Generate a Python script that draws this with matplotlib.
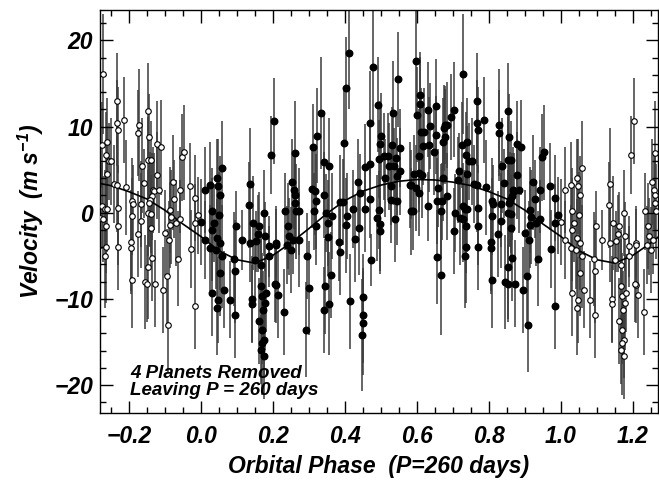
import numpy as np
import matplotlib
matplotlib.use("Agg")
import matplotlib.pyplot as plt
from matplotlib.ticker import MultipleLocator

plt.rcParams['font.family'] = ['Liberation Sans', 'DejaVu Sans']
plt.rcParams['font.weight'] = 'bold'
plt.rcParams['font.style'] = 'italic'
plt.rcParams['axes.labelweight'] = 'bold'

# measured (filled) points, phase 0..1
phase = [
    0.204, 0.195, 0.059, 0.045, 0.027, 0.054, 0.048, 0.031, 0.036, 0.031,
    0.050, 0.045, 0.027, 0.041, 0.054, 0.059, 0.054, 0.064, 0.031, 0.045,
    0.048, 0.013, 0.013, 0.099, 0.115, 0.092, 0.095, 0.082, 0.096, 0.137,
    0.134, 0.146, 0.137, 0.162, 0.160, 0.152, 0.178, 0.176, 0.150, 0.190,
    0.190, 0.208, 0.208, 0.166, 0.143, 0.141, 0.166, 0.171, 0.173, 0.162,
    0.171, 0.176, 0.166, 0.176, 0.179, 0.182, 0.169,
    0.263, 0.254, 0.258, 0.261, 0.263, 0.265, 0.274, 0.235, 0.242, 0.245,
    0.239, 0.251, 0.256, 0.272, 0.209, 0.207, 0.214, 0.231, 0.293, 0.296,
    0.301, 0.335, 0.324, 0.312, 0.343, 0.355, 0.309, 0.316, 0.321, 0.314,
    0.343, 0.349, 0.354, 0.354, 0.365, 0.386, 0.396, 0.399, 0.402, 0.385,
    0.363, 0.346, 0.355, 0.343, 0.319, 0.387,
    0.412, 0.406, 0.404, 0.427, 0.415, 0.424, 0.436, 0.443, 0.440, 0.455,
    0.455, 0.469, 0.471, 0.470, 0.479, 0.474, 0.451, 0.451, 0.451, 0.448,
    0.491, 0.501, 0.497, 0.494, 0.508, 0.490, 0.496, 0.497, 0.499, 0.513,
    0.520, 0.530, 0.533, 0.523, 0.527, 0.529, 0.536, 0.541, 0.547, 0.552,
    0.553, 0.544, 0.545, 0.539, 0.583, 0.585,
    0.598, 0.601, 0.610, 0.609, 0.612, 0.616, 0.615, 0.607, 0.582, 0.593,
    0.598, 0.589, 0.605, 0.607, 0.632, 0.637, 0.633, 0.621, 0.654, 0.649,
    0.653, 0.675, 0.679, 0.684, 0.677, 0.674, 0.696, 0.703, 0.672, 0.660,
    0.657, 0.671, 0.668, 0.684, 0.630, 0.657, 0.668, 0.728, 0.725, 0.740,
    0.737, 0.745, 0.752, 0.740, 0.716, 0.714, 0.766, 0.766, 0.770, 0.759,
    0.766, 0.727, 0.733, 0.740, 0.721, 0.728, 0.707, 0.703, 0.736, 0.737,
    0.735, 0.770, 0.770, 0.770,
    0.787, 0.829, 0.827, 0.853, 0.857, 0.838, 0.841, 0.853, 0.862, 0.866,
    0.869, 0.864, 0.860, 0.853, 0.862, 0.855, 0.862, 0.878, 0.890, 0.878,
    0.885, 0.793, 0.810, 0.813, 0.834, 0.810, 0.834, 0.825, 0.807, 0.807,
    0.810, 0.853, 0.864, 0.844, 0.852, 0.872, 0.895, 0.906, 0.908, 0.900,
    0.911, 0.915, 0.918, 0.914, 0.922, 0.927, 0.931, 0.937, 0.942, 0.942,
    0.948, 0.953, 0.969, 0.974, 0.983, 0.985, 0.983, 0.993, 0.001,
]

velocity = [
    10.66, 6.72, 5.17, 4.02, 3.24, 2.08, 3.05, 0.15, -1.2, -1.97,
    -0.23, -2.93, -4.09, -4.29, -3.51, -5.06, -6.99, -8.92, -9.3, -11.04,
    -10.08, 2.66, -3.13, -1.51, -3.13, -5.37, -6.8, -10.08, -11.81, 3.36,
    0.93, -1.2, -3.51, -1.58, -2.43, -3.32, -2.74, -0.04, -5.44, -3.9,
    -5.06, -3.51, -8.34, -6.02, -10.0, -10.58, -8.53, -9.69, -11.24, -12.59,
    -13.55, -14.71, -15.87, -16.64, -10.46, -9.31, -15.1,
    6.91, 3.55, 2.66, 2.08, 1.12, 0.15, 0.15, 0.15, -1.58, -2.74,
    -3.71, -4.29, -3.13, -3.13, -3.71, -8.22, -9.5, -11.5, -13.55, -5.06,
    -8.73, 11.54, 8.92, 7.61, 5.83, 5.44, 2.74, 2.47, 1.31, 0.15,
    2.08, -0.04, -1.2, -2.86, -0.42, 1.2, 1.2, 8.07, 14.44, -3.4,
    -7.18, -8.53, -10.54, -11.31, -1.58, -4.56,
    18.49, -0.35, -1.47, -3.01, -10.27, 0.42, 3.51, 2.28, -1.78, 5.29,
    0.42, 5.68, 10.39, 1.62, 16.95, -5.52, -9.77, -11.89, -12.78, -14.13,
    12.51, 8.92, 7.95, 6.25, 6.53, -0.62, 0.35, -1.31, -2.16, 4.02,
    6.53, 7.8, 11.62, 5.37, 3.13, 1.51, 5.37, 6.33, 15.48, 7.49,
    4.79, 4.21, 1.31, -0.73, 3.24, 0.15,
    17.64, 11.35, 13.67, 12.59, 9.42, 7.76, 4.4, 6.53, 3.24, 4.48,
    2.86, 0.15, 2.28, 4.59, 11.93, 10.08, 7.88, 9.42, 12.39, 7.1,
    9.03, 9.81, 10.19, 10.19, 8.84, 8.26, 11.08, 11.93, 4.02, 2.86,
    1.39, 1.31, 0.15, 1.89, 0.73, -5.14, -7.18, 16.1, 7.88, 8.26,
    6.72, 5.95, 5.95, 4.52, 4.79, 3.82, 13.01, 10.39, 9.61, 3.36,
    3.24, 0.81, 0.42, 0.42, -0.62, -0.73, -0.04, -2.08, -1.51, -3.98,
    -5.06, 0.54, -1.58, -3.98,
    10.77, 10.19, 9.23, 11.85, 8.73, 5.44, 3.44, 6.14, 6.14, 2.66,
    2.47, 1.89, 1.51, -0.04, -0.12, 1.12, -1.78, 7.95, 7.57, 4.32,
    2.66, 2.97, 1.31, 1.0, 1.0, -0.42, -0.93, -2.43, -3.4, -4.09,
    -7.84, -6.33, -5.25, -8.03, -8.22, -8.22, -8.92, -7.37, -12.97, -2.36,
    -3.13, -1.39, -0.5, 0.35, 3.55, 1.62, -1.2, -5.33, -0.73, 2.66,
    6.41, 6.99, 3.05, -4.21, 1.7, -1.2, -10.77, -0.3, -1.05,
]

errors = [
    5.0, 4.5, 5.5, 4.5, 5.0, 4.5, 5.5, 5.0, 4.5, 6.0,
    5.0, 4.5, 5.0, 4.5, 5.5, 6.0, 5.0, 4.5, 5.0, 5.5,
    5.0, 5.0, 4.5, 4.0, 3.5, 5.5, 6.0, 4.5, 5.0, 6.5,
    5.0, 5.5, 4.5, 4.0, 4.5, 3.5, 4.0, 5.0, 4.5, 3.5,
    3.5, 4.0, 4.5, 4.0, 5.0, 4.5, 5.5, 5.0, 4.5, 5.0,
    4.0, 4.5, 4.0, 5.0, 5.5, 4.5, 6.0,
    6.0, 5.0, 4.5, 5.0, 4.5, 5.5, 5.0, 4.5, 5.0, 4.5,
    4.5, 5.0, 4.0, 5.5, 4.5, 4.5, 5.0, 5.0, 5.5, 5.0,
    5.5, 6.5, 5.5, 5.0, 6.0, 5.5, 4.5, 5.0, 5.5, 4.5,
    5.0, 4.5, 5.0, 4.5, 5.0, 5.5, 5.0, 6.5, 6.0, 4.5,
    5.0, 5.5, 6.0, 5.0, 4.5, 5.0,
    6.5, 5.0, 5.5, 5.0, 5.5, 4.5, 5.0, 4.5, 5.5, 5.0,
    5.0, 4.5, 6.0, 4.5, 6.5, 3.0, 5.0, 5.5, 6.0, 6.5,
    5.5, 5.0, 5.0, 4.5, 5.0, 5.0, 4.5, 5.5, 5.0, 4.5,
    5.0, 4.5, 6.0, 5.0, 4.5, 5.0, 4.5, 5.0, 5.5, 4.5,
    5.0, 4.5, 5.0, 5.0, 4.0, 5.0,
    6.0, 5.5, 5.0, 5.5, 5.0, 4.5, 5.0, 5.5, 5.0, 4.5,
    5.0, 4.5, 5.0, 4.5, 5.5, 5.0, 5.5, 5.0, 5.5, 5.0,
    4.5, 5.0, 4.5, 5.0, 5.5, 5.0, 5.0, 5.5, 5.0, 4.5,
    5.0, 4.5, 5.5, 5.0, 4.0, 5.5, 7.0, 7.0, 5.0, 5.0,
    5.0, 4.5, 5.0, 5.5, 4.5, 5.0, 5.5, 5.0, 5.0, 4.5,
    5.5, 5.0, 4.5, 5.0, 5.5, 5.0, 4.5, 5.0, 5.5, 6.5,
    6.0, 5.0, 4.5, 5.0,
    5.0, 6.5, 5.0, 5.5, 5.0, 5.5, 4.0, 5.0, 4.5, 5.0,
    4.5, 5.0, 5.5, 5.0, 4.5, 5.0, 4.5, 5.0, 5.5, 5.0,
    5.0, 5.5, 5.0, 4.5, 5.0, 4.5, 5.5, 5.0, 6.0, 5.0,
    5.5, 6.0, 5.0, 5.5, 4.5, 5.0, 5.0, 5.5, 5.5, 5.0,
    4.5, 5.0, 5.5, 5.0, 5.5, 4.5, 5.0, 5.5, 4.5, 5.0,
    5.0, 5.5, 5.0, 4.5, 5.0, 4.5, 5.0, 4.5, 5.0,
]

# model curve, one cycle, step 0.05 in phase
curve_phase = [0.00, 0.05, 0.10, 0.15, 0.20, 0.25, 0.30, 0.35, 0.40, 0.45, 0.50,
               0.55, 0.60, 0.65, 0.70, 0.75, 0.80, 0.85, 0.90, 0.95, 1.00]
curve_vel = [-2.75, -4.4, -5.45, -5.85, -4.95, -3.5, -1.85, -0.1, 1.4, 2.5, 3.2,
             3.65, 3.85, 3.8, 3.55, 3.15, 2.45, 1.6, 0.3, -1.3, -2.75]

xmin, xmax = -0.28, 1.27

ph = np.array(phase)
v = np.array(velocity)
e = np.array(errors)

# repeated points outside 0..1 (open symbols)
lo = ph > 1 + xmin
hi = ph < xmax - 1
ph_rep = np.concatenate([ph[lo] - 1, ph[hi] + 1])
v_rep = np.concatenate([v[lo], v[hi]])
e_rep = np.concatenate([e[lo], e[hi]])

cp = np.array(curve_phase)
cv = np.array(curve_vel)
cx = np.concatenate([cp[:-1] - 1, cp[:-1], cp + 1])
cy = np.concatenate([cv[:-1], cv[:-1], cv])

fig = plt.figure(figsize=(6.59, 4.83), dpi=100)
ax = fig.add_axes([0.1517, 0.1455, 0.8468, 0.8335])

barcol = '#3c3c3c'
ax.vlines(ph_rep, v_rep - e_rep, v_rep + e_rep, color=barcol, lw=1.1, zorder=1)
ax.vlines(ph, v - e, v + e, color=barcol, lw=1.1, zorder=1)
ax.plot(cx, cy, color='k', lw=1.2, zorder=2)
ax.plot(ph_rep, v_rep, 'o', ms=4.0, mfc='white', mec='k', mew=0.8, zorder=3)
ax.plot(ph, v, 'o', ms=4.7, mfc='k', mec='k', zorder=4)

ax.set_xlim(xmin, xmax)
ax.set_ylim(-23.2, 23.5)
ax.xaxis.set_major_locator(MultipleLocator(0.2))
ax.xaxis.set_minor_locator(MultipleLocator(0.05))
ax.yaxis.set_major_locator(MultipleLocator(10))
ax.yaxis.set_minor_locator(MultipleLocator(2))
ax.tick_params(which='both', direction='in', top=True, right=True, width=1.0)
ax.tick_params(which='major', length=9, labelsize=16.5)
ax.tick_params(axis='x', which='major', pad=9)
ax.tick_params(axis='y', which='major', pad=5)
ax.tick_params(which='minor', length=4.5)
ax.set_xticklabels([f'{t:.1f}'.replace('-', '\u2212') for t in ax.get_xticks()])
for s in ax.spines.values():
    s.set_linewidth(1.0)

ax.set_xlabel('Orbital Phase  (P=260 days)', fontsize=16.5, fontweight='bold',
              fontstyle='italic', labelpad=5)
ax.set_ylabel(r'Velocity  (m s$^{\mathregular{-1}}$)', fontsize=16.5, fontweight='bold',
              fontstyle='italic', labelpad=6)

ax.text(0.054, 0.035, '4 Planets Removed\nLeaving P = 260 days', transform=ax.transAxes,
        fontsize=13.5, ha='left', va='bottom', linespacing=1.0)

fig.savefig('out.png', dpi=100)
